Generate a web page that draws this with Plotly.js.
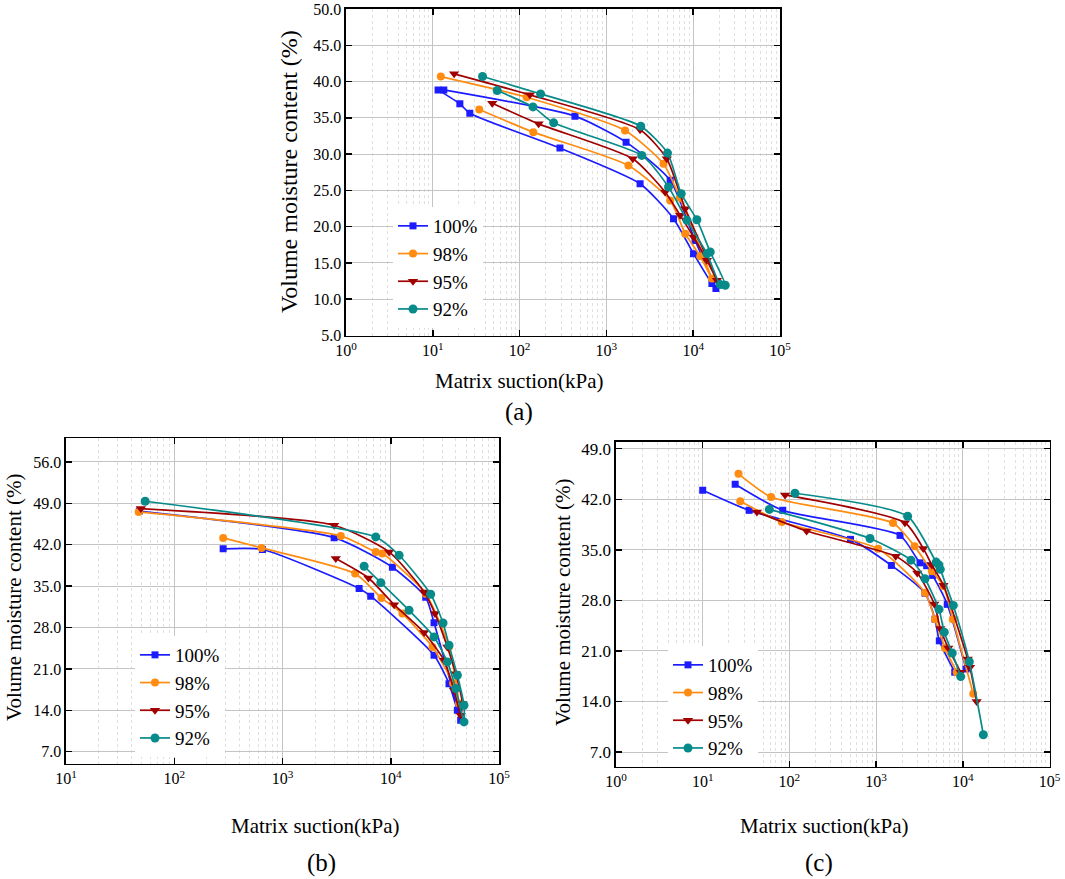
<!DOCTYPE html>
<html>
<head>
<meta charset="utf-8">
<script src="https://cdn.plot.ly/plotly-3.0.1.min.js"></script>
<style>html,body{margin:0;padding:0;background:#fff;}#chart{width:1065px;height:879px;}</style>
</head>
<body>
<div id="chart"></div>
<script>
// ---- series labels ----
const seriesNames = ['100%', '98%', '95%', '92%'];
// ---- tick exponents ----
const tickExpA = [0, 1, 2, 3, 4, 5];
const tickExpB = [1, 2, 3, 4, 5];
const tickExpC = [0, 1, 2, 3, 4, 5];

// ---- Panel (a): matrix suction (kPa) / volume moisture content (%) ----
const a100_s = [11.5, 20.5, 26.7, 291.7, 2444, 5935, 10090, 16420, 18270, 10500, 5430, 1686, 434.6, 13.4];
const a100_v = [38.85, 36.93, 35.64, 30.83, 25.92, 21.10, 16.28, 12.15, 11.47, 18.1, 26.4, 31.65, 35.23, 38.85];
const a98_s = [34.3, 143.8, 1793, 5430, 8090, 12050, 16420, 7000, 4545, 1641, 120.5, 12.37];
const a98_v = [36.15, 33.03, 28.44, 23.62, 19.04, 15.92, 12.84, 24.0, 28.67, 33.26, 37.84, 40.69];
const a95_s = [48.4, 165.6, 2014, 4753, 7080, 10090, 14390, 18750, 8090, 4966, 2444, 131.5, 17.6];
const a95_v = [37.02, 34.17, 29.36, 24.77, 21.56, 18.58, 15.37, 12.61, 22.48, 29.36, 33.35, 38.17, 41.06];
const a92_s = [55.2, 142.6, 246.6, 2557, 5190, 8460, 14390, 20500, 23400, 15710, 11020, 7280, 5058, 2488, 174.6, 37.4];
const a92_v = [38.76, 36.51, 34.31, 29.82, 25.46, 20.87, 16.28, 12.02, 11.93, 16.51, 20.96, 24.54, 30.14, 33.85, 38.30, 40.69];

// ---- Panel (b) ----
const b100_s = [283, 653, 5105, 6530, 25120, 34530, 41220, 44260, 25120, 21040, 10360, 2999, 47.6];
const b100_v = [41.3, 41.2, 34.6, 33.3, 23.3, 18.5, 14.0, 12.3, 28.8, 33.1, 38.2, 43.2, 47.7];
const b98_s = [283, 640, 4690, 8200, 12820, 24270, 37670, 42770, 34530, 21040, 8380, 7270, 3455, 46.9];
const b98_v = [43.15, 41.46, 37.12, 33.0, 30.35, 24.71, 18.56, 15.13, 24.71, 33.73, 40.5, 40.78, 43.49, 47.54];
const b95_s = [3105, 6220, 10740, 20320, 31050, 38420, 44260, 45880, 39810, 33340, 25660, 20320, 9660, 2999, 49.2];
const b95_v = [39.65, 36.38, 31.87, 27.14, 22.46, 17.39, 13.16, 15.13, 20.2, 24.71, 30.35, 34.02, 40.78, 45.29, 48.11];
const b92_s = [5675, 8090, 14750, 25120, 33340, 39810, 47510, 47510, 41220, 34530, 30410, 23380, 11940, 7270, 53.9];
const b92_v = [38.36, 35.59, 30.92, 26.41, 22.18, 17.67, 12.03, 14.85, 19.92, 25.0, 28.77, 33.62, 40.22, 43.32, 49.35];

// ---- Panel (c) (null separates the two branches) ----
const c100_s = [10, 34.3, 507, 1500, 3664, 4780, 5360, 8070, null, 23.7, 83.8, 1888, 3210, 3830, 4490, 6620, 10910];
const c100_v = [43.25, 40.47, 36.45, 32.84, 29.0, 25.4, 22.4, 18.06, null, 44.08, 40.47, 37.0, 33.2, 32.8, 31.46, 27.45, 18.5];
const c98_s = [27.1, 81.7, 1054, 3664, 4780, 6240, 8510, null, 25.9, 61.5, 1567, 2780, 4400, 5980, 7670, 13200];
const c98_v = [41.72, 38.85, 35.15, 29.05, 25.4, 21.4, 18.06, null, 45.52, 42.32, 38.72, 35.48, 32.05, 30.0, 25.4, 15.06];
const c95_s = [42.2, 158, 1683, 2985, 4690, 5500, 6800, 9460, null, 89.1, 2150, 3500, 4400, 5980, 11380, 12100, 14450];
const c95_v = [40.24, 37.61, 34.1, 31.8, 27.5, 24.1, 21.4, 18.06, null, 42.6, 38.75, 35.2, 32.9, 30.1, 19.9, 18.75, 14.0];
const c92_s = [58.7, 851, 2524, 3664, 5310, 6110, 7560, 9460, null, 116, 2310, 4930, 5300, 5500, 7770, 11890, 17260];
const c92_v = [40.6, 36.57, 33.57, 31.0, 26.76, 23.6, 20.7, 17.45, null, 42.83, 39.65, 33.3, 32.9, 32.3, 27.3, 19.5, 9.4];

// ---- styles ----
const W = 1065, H = 879;
const FONT = 'Liberation Serif';
const styles = [
  {color: '#1c1cff', symbol: 'square', size: 7},
  {color: '#ff8c10', symbol: 'circle', size: 8},
  {color: '#a00000', symbol: 'triangle-down', size: 9},
  {color: '#078a8a', symbol: 'circle', size: 9}
];

const panels = [
  {xa: 'x', ya: 'y', legend: 'legend', data: [[a100_s, a100_v], [a98_s, a98_v], [a95_s, a95_v], [a92_s, a92_v]]},
  {xa: 'x2', ya: 'y2', legend: 'legend2', data: [[b100_s, b100_v], [b98_s, b98_v], [b95_s, b95_v], [b92_s, b92_v]]},
  {xa: 'x3', ya: 'y3', legend: 'legend3', data: [[c100_s, c100_v], [c98_s, c98_v], [c95_s, c95_v], [c92_s, c92_v]]}
];

const traces = [];
panels.forEach(p => {
  p.data.forEach((d, i) => {
    const st = styles[i];
    traces.push({
      type: 'scatter', mode: 'lines+markers',
      x: d[0], y: d[1], name: seriesNames[i],
      xaxis: p.xa, yaxis: p.ya, legend: p.legend,
      connectgaps: false,
      line: {color: st.color, width: 1.7, shape: 'spline', smoothing: 0.6},
      marker: {color: st.color, symbol: st.symbol, size: st.size, line: {width: 0}}
    });
  });
});

function px2x(p) { return p / W; }
function px2y(p) { return 1 - p / H; }

function xAxis(left, right, exps, fs) {
  return {
    type: 'log', domain: [px2x(left), px2x(right)],
    range: [exps[0], exps[exps.length - 1]],
    tickvals: exps.map(e => Math.pow(10, e)),
    ticktext: exps.map(e => '10<sup>' + e + '</sup>'),
    tickfont: {family: FONT, size: fs, color: '#000'},
    showline: true, linecolor: '#000', linewidth: 1.6, mirror: 'ticks',
    ticks: 'inside', ticklen: 6, tickwidth: 1.5, tickcolor: '#000',
    showgrid: true, gridcolor: '#c4c4c4', gridwidth: 1,
    minor: {dtick: 'D1', showgrid: true, gridcolor: '#e0e0e0', griddash: 'dot', gridwidth: 1, ticks: ''},
    zeroline: false, fixedrange: true
  };
}
function yAxis(top, bottom, range, tick0, dtick, fs, xanchor) {
  return {
    domain: [px2y(bottom), px2y(top)], anchor: xanchor,
    range: range, tick0: tick0, dtick: dtick, tickformat: '.1f',
    tickfont: {family: FONT, size: fs, color: '#000'},
    showline: true, linecolor: '#000', linewidth: 1.6, mirror: 'ticks',
    ticks: 'inside', ticklen: 6, tickwidth: 1.5, tickcolor: '#000',
    showgrid: true, gridcolor: '#c4c4c4', gridwidth: 1,
    zeroline: false, fixedrange: true
  };
}

const xa = xAxis(346, 780, tickExpA, 16); xa.anchor = 'y';
const xb = xAxis(66, 499, tickExpB, 16); xb.anchor = 'y2';
const xc = xAxis(616, 1049.5, tickExpC, 16); xc.anchor = 'y3';

function ann(text, x, y, size, angle) {
  const a = {text: text, xref: 'paper', yref: 'paper', x: px2x(x), y: px2y(y),
    xanchor: 'center', yanchor: 'middle', showarrow: false,
    font: {family: FONT, size: size, color: '#000'}};
  if (angle) a.textangle = angle;
  return a;
}

function legendCfg(x, y) {
  return {x: px2x(x), y: px2y(y), xanchor: 'left', yanchor: 'top',
    bgcolor: '#ffffff', borderwidth: 0, tracegroupgap: 0,
    font: {family: FONT, size: 19, color: '#000'}};
}

const layout = {
  width: W, height: H,
  margin: {l: 0, r: 0, t: 0, b: 0},
  paper_bgcolor: '#fff', plot_bgcolor: '#fff',
  font: {family: FONT, color: '#000'},
  showlegend: true,
  xaxis: xa,
  yaxis: yAxis(9, 335.5, [5, 50], 5, 5, 16, 'x'),
  xaxis2: xb,
  yaxis2: yAxis(438.3, 763.5, [5, 60], 7, 7, 16, 'x2'),
  xaxis3: xc,
  yaxis3: yAxis(441.5, 766.5, [5, 50], 7, 7, 17, 'x3'),
  legend: legendCfg(393, 207),
  legend2: legendCfg(135, 636),
  legend3: legendCfg(668, 646),
  annotations: [
    ann('Volume moisture content (%)', 289, 172, 24, -90),
    ann('Matrix suction(kPa)', 519, 381, 21),
    ann('(a)', 519, 412, 25),
    ann('Volume moisture content (%)', 14, 598, 21, -90),
    ann('Matrix suction(kPa)', 315, 826, 21),
    ann('(b)', 321, 863, 25),
    ann('Volume moisture content (%)', 563, 603, 21, -90),
    ann('Matrix suction(kPa)', 824, 826, 21),
    ann('(c)', 819, 863, 25)
  ]
};

Plotly.newPlot('chart', traces, layout, {staticPlot: true, displayModeBar: false});
</script>
</body>
</html>
